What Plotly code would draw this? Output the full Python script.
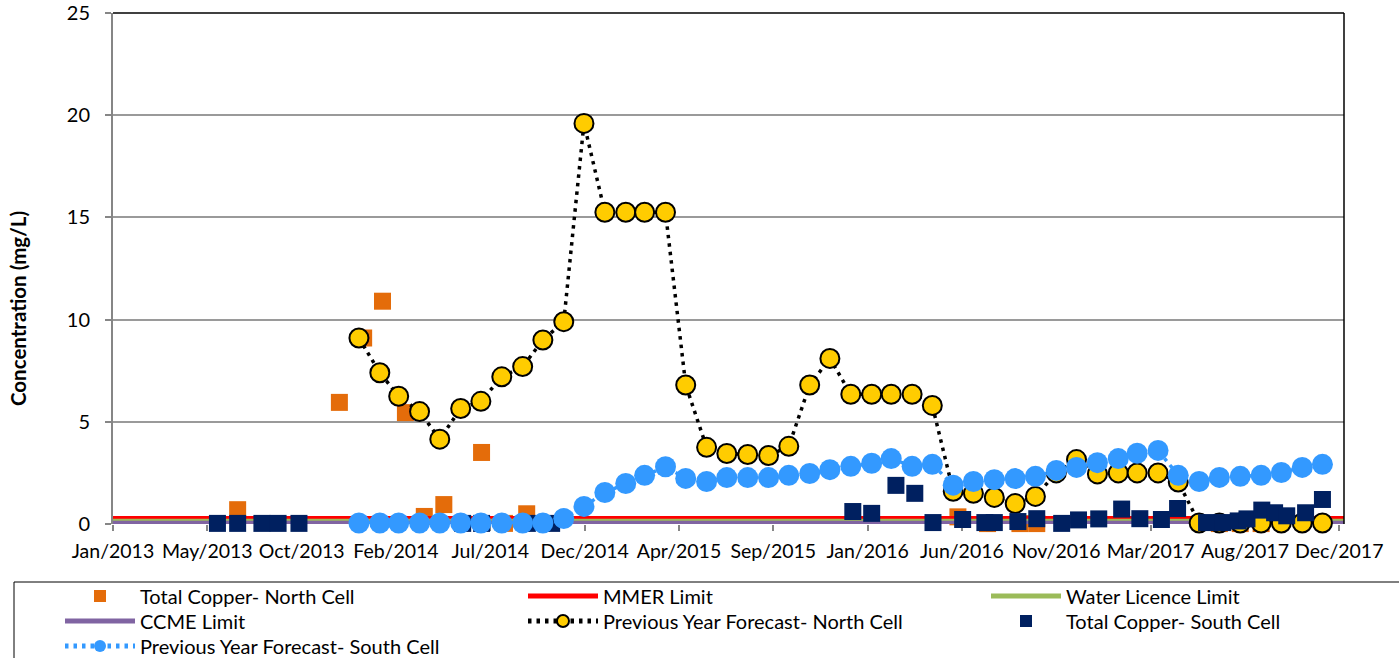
import plotly.graph_objects as go

# ---------------- data ----------------
north_dates = ["2013-07-05", "2013-12-03", "2014-01-08", "2014-02-05", "2014-03-11", "2014-04-08",
               "2014-05-07", "2014-07-02", "2014-08-05", "2014-09-07", "2016-06-08", "2016-07-22",
               "2016-09-08", "2016-10-03", "2017-07-01", "2017-08-01", "2017-09-01"]
north_cu = [0.7, 5.95, 9.1, 10.9, 5.45, 0.37, 0.95, 3.5, 0.03, 0.5, 0.35, 0.02,
            0.02, 0.02, 0.02, 0.02, 0.02]

south_dates = ["2013-06-05", "2013-07-05", "2013-08-10", "2013-09-03", "2013-10-04",
               "2014-06-04", "2014-07-02", "2014-09-08", "2014-10-14",
               "2016-01-04", "2016-02-01", "2016-03-08", "2016-04-05", "2016-05-02", "2016-06-15",
               "2016-07-18", "2016-08-01", "2016-09-05", "2016-10-03", "2016-11-09", "2016-12-04",
               "2017-01-03", "2017-02-06", "2017-03-05", "2017-04-06", "2017-04-30", "2017-06-12",
               "2017-07-06", "2017-07-29", "2017-08-11", "2017-09-02", "2017-09-21", "2017-10-09",
               "2017-11-06", "2017-12-01"]
south_cu = [0.03, 0.03, 0.03, 0.03, 0.03,
            0.03, 0.03, 0.03, 0.03,
            0.61, 0.52, 1.89, 1.5, 0.07, 0.22,
            0.07, 0.07, 0.12, 0.26, 0.03, 0.2,
            0.25, 0.73, 0.26, 0.22, 0.76, 0.07,
            0.07, 0.15, 0.25, 0.68, 0.55, 0.4,
            0.55, 1.2]

forecast_months = [f"{y}-{m:02d}-01" for y in range(2014, 2018) for m in range(1, 13)]
forecast_north = [9.1, 7.4, 6.25, 5.5, 4.15, 5.65, 6.0, 7.2, 7.7, 9.0, 9.9, 19.6,
                  15.25, 15.25, 15.25, 15.25, 6.8, 3.75, 3.45, 3.4, 3.35, 3.8, 6.8, 8.1,
                  6.35, 6.35, 6.35, 6.35, 5.8, 1.6, 1.5, 1.3, 1.0, 1.35, 2.5, 3.15,
                  2.45, 2.5, 2.5, 2.5, 2.05, 0.05, 0.05, 0.05, 0.05, 0.05, 0.05, 0.05]
forecast_south = [0.05, 0.05, 0.05, 0.05, 0.05, 0.05, 0.05, 0.05, 0.05, 0.05, 0.27, 0.86,
                  1.54, 1.98, 2.38, 2.8, 2.23, 2.08, 2.27, 2.27, 2.27, 2.38, 2.47, 2.66,
                  2.82, 2.97, 3.2, 2.82, 2.92, 1.9, 2.08, 2.17, 2.22, 2.33, 2.62, 2.77,
                  3.0, 3.2, 3.46, 3.6, 2.38, 2.08, 2.28, 2.33, 2.38, 2.52, 2.77, 2.92]

limit_dates = ["2013-01-01", "2018-01-02"]
mmer_limit = [0.3, 0.3]
water_licence_limit = [0.2, 0.2]
ccme_limit = [0.04, 0.04]

tick_dates = ["2013-01-01", "2013-05-21", "2013-10-08", "2014-02-25", "2014-07-15", "2014-12-02",
              "2015-04-21", "2015-09-08", "2016-01-26", "2016-06-14", "2016-11-01", "2017-03-21",
              "2017-08-08", "2017-12-26"]
tick_labels = ["Jan/2013", "May/2013", "Oct/2013", "Feb/2014", "Jul/2014", "Dec/2014", "Apr/2015",
               "Sep/2015", "Jan/2016", "Jun/2016", "Nov/2016", "Mar/2017", "Aug/2017", "Dec/2017"]

# ---------------- figure ----------------
FONT = "Lato"
fig = go.Figure()

fig.add_trace(go.Scatter(x=north_dates, y=north_cu, mode="markers", name="Total Copper- North Cell",
                         marker=dict(symbol="square", size=17, color="#E46C0A"), cliponaxis=False,
                         legend="legend"))
fig.add_trace(go.Scatter(x=limit_dates, y=mmer_limit, mode="lines", name="MMER Limit",
                         line=dict(color="#FF0000", width=3.5), cliponaxis=False, legend="legend2"))
fig.add_trace(go.Scatter(x=limit_dates, y=water_licence_limit, mode="lines", name="Water Licence Limit",
                         line=dict(color="#9BBB59", width=2.5), cliponaxis=False, legend="legend3"))
fig.add_trace(go.Scatter(x=limit_dates, y=ccme_limit, mode="lines", name="CCME Limit",
                         line=dict(color="#8064A2", width=5), cliponaxis=False, legend="legend4"))
fig.add_trace(go.Scatter(x=forecast_months, y=forecast_north, mode="lines+markers",
                         name="Previous Year Forecast- North Cell",
                         line=dict(color="#000000", width=3.5, dash="3.5px,5px"),
                         marker=dict(symbol="circle", size=19, color="#FFCC00",
                                     line=dict(color="#000000", width=2)), cliponaxis=False,
                         legend="legend5"))
fig.add_trace(go.Scatter(x=south_dates, y=south_cu, mode="markers", name="Total Copper- South Cell",
                         marker=dict(symbol="square", size=17, color="#002060"), cliponaxis=False,
                         legend="legend6"))
fig.add_trace(go.Scatter(x=forecast_months, y=forecast_south, mode="lines+markers",
                         name="Previous Year Forecast- South Cell",
                         line=dict(color="#3399FF", width=3.5, dash="3.5px,5px"),
                         marker=dict(symbol="circle", size=21, color="#3399FF"), cliponaxis=False,
                         legend="legend7"))

W, H = 1399, 658
L, R, T, B = 113, 55, 13, 134
pw, ph = W - L - R, H - T - B


def px2x(px):
    return (px - L) / pw


def px2y(py):
    return (H - B - py) / ph


def legend_at(col_px, row_px):
    return dict(orientation="h", x=px2x(col_px), y=px2y(row_px), xanchor="left", yanchor="middle",
                itemwidth=70, font=dict(family=FONT, size=20, color="#000000"),
                bgcolor="rgba(0,0,0,0)", borderwidth=0, itemsizing="constant")


COLS = [60, 523, 986]
ROWS = [596, 621, 646]

fig.update_layout(
    width=W, height=H,
    margin=dict(l=L, r=R, t=T, b=B, pad=0, autoexpand=False),
    paper_bgcolor="white", plot_bgcolor="white",
    font=dict(family=FONT, size=19, color="#000000"),
    showlegend=True,
    legend=legend_at(COLS[0], ROWS[0]),
    legend2=legend_at(COLS[1], ROWS[0]),
    legend3=legend_at(COLS[2], ROWS[0]),
    legend4=legend_at(COLS[0], ROWS[1]),
    legend5=legend_at(COLS[1], ROWS[1]),
    legend6=legend_at(COLS[2], ROWS[1]),
    legend7=legend_at(COLS[0], ROWS[2]),
    xaxis=dict(type="date", range=["2013-01-01", "2018-01-02"],
               tickvals=tick_dates, ticktext=tick_labels, tickangle=0,
               showgrid=False, zeroline=False, showline=False,
               ticks="outside", ticklen=6, tickcolor="#868686", tickwidth=1.5,
               layer="below traces",
               ticklabelstandoff=4, tickfont=dict(family=FONT, size=19.5)),
    yaxis=dict(range=[0, 25], tickvals=[0, 5, 10, 15, 20, 25], showgrid=True,
               gridcolor="#9A9A9A", gridwidth=2, zeroline=False,
               showline=True, linecolor="#868686", linewidth=2,
               ticks="outside", ticklen=6, tickcolor="#868686", tickwidth=1.5,
               layer="below traces",
               ticklabelstandoff=11, tickfont=dict(family=FONT, size=20)),
    shapes=[
        dict(type="line", xref="paper", yref="paper", x0=0, x1=1, y0=1, y1=1,
             line=dict(color="#000000", width=1.5)),
        dict(type="line", xref="paper", yref="paper", x0=1, x1=1, y0=0, y1=1,
             line=dict(color="#000000", width=1.5)),
        dict(type="rect", xref="paper", yref="paper", x0=px2x(14), x1=px2x(1420),
             y0=px2y(582), y1=px2y(700), line=dict(color="#000000", width=1)),
    ],
    annotations=[
        dict(text="<b>Concentration (mg/L)</b>", textangle=-90, xref="paper", yref="paper",
             x=px2x(18), y=px2y(309), xanchor="center", yanchor="middle", showarrow=False,
             font=dict(family=FONT, size=20.5, color="#000000")),
    ],
)

fig.write_html("out.html", config={"displayModeBar": False},
               post_script="document.body.style.margin='0px';")
